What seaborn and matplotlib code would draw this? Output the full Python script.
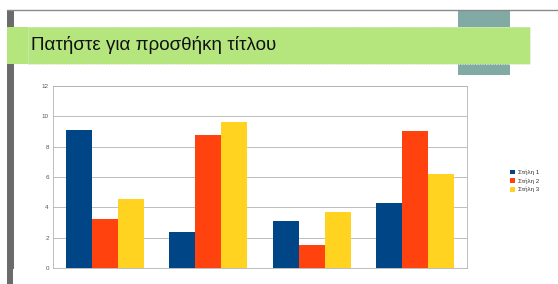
import matplotlib
matplotlib.use("Agg")
import matplotlib.pyplot as plt
from matplotlib.patches import Rectangle
from matplotlib.lines import Line2D
import seaborn as sns
import pandas as pd

categories = ["Γραμμή 1", "Γραμμή 2", "Γραμμή 3", "Γραμμή 4"]
series_names = ["Στήλη 1", "Στήλη 2", "Στήλη 3"]
col1 = [9.1, 2.4, 3.1, 4.3]
col2 = [3.2, 8.8, 1.5, 9.02]
col3 = [4.54, 9.65, 3.7, 6.2]
colors = ["#004586", "#ff420e", "#ffd320"]
title_text = "Πατήστε για προσθήκη τίτλου"
y_ticks = [0, 2, 4, 6, 8, 10, 12]

df = pd.DataFrame({
    "cat": categories * 3,
    "series": [s for s in series_names for _ in categories],
    "value": col1 + col2 + col3,
})

sns.set_theme(style="white")
plt.rcParams["font.family"] = ["Liberation Sans", "DejaVu Sans"]

W, H = 558, 284
fig = plt.figure(figsize=(W / 100, H / 100), dpi=100)
fig.patch.set_facecolor("white")

def px_rect(x0, y0, x1, y1, **kw):
    return Rectangle((x0 / W, 1 - y1 / H), (x1 - x0) / W, (y1 - y0) / H,
                     transform=fig.transFigure, **kw)

# slide decorations
fig.add_artist(Line2D([7 / W, 1], [1 - 10 / H, 1 - 10 / H], transform=fig.transFigure,
                      color="#8a8a8a", lw=1.0))
fig.add_artist(px_rect(7, 10, 14, 269, color="#6b6b6b", lw=0))
fig.add_artist(px_rect(7, 269, 13, 284, color="#6b6b6b", lw=0))
fig.add_artist(px_rect(458, 10, 510, 75, color="#80aaa3", lw=0))
fig.add_artist(px_rect(7, 27, 530, 64, color="#b5e67e", lw=0))
fig.add_artist(px_rect(28, 27, 530, 64, fill=False, ec="#d8e8c8", lw=0.6, ls=(0, (2, 1))))
fig.text(31 / W, 1 - 45.5 / H, title_text, fontsize=13.5, color="#111111",
         va="center", ha="left")

# chart
ax = fig.add_axes([53 / W, 1 - 268 / H, (467 - 53) / W, (268 - 86) / H])
sns.barplot(data=df, x="cat", y="value", hue="series", palette=colors,
            width=0.75, gap=0, saturation=1, ax=ax, legend=True,
            edgecolor="none", linewidth=0)
ax.set_ylim(0, 12)
ax.set_xlim(-0.5, 3.5)
ax.set_yticks(y_ticks)
ax.set_yticklabels([str(t) for t in y_ticks], fontsize=4.5, color="#555555")
ax.set_xticks([0.5, 1.5, 2.5])
ax.set_xticklabels([])
ax.tick_params(axis="both", length=2, width=0.5, color="#b3b3b3", pad=1)
ax.set_xlabel("")
ax.set_ylabel("")
ax.grid(axis="y", color="#b3b3b3", lw=0.6)
ax.set_axisbelow(True)
for sp in ax.spines.values():
    sp.set_color("#b3b3b3")
    sp.set_linewidth(0.6)

handles, labels = ax.get_legend_handles_labels()
ax.legend(handles, labels, loc="center left", bbox_to_anchor=(507 / W, 1 - 181 / H),
          bbox_transform=fig.transFigure, frameon=False, fontsize=4.5,
          handlelength=0.8, handleheight=0.8, handletextpad=0.4, labelspacing=0.5,
          borderpad=0, labelcolor="#333333")

fig.savefig("out.png", dpi=100)
